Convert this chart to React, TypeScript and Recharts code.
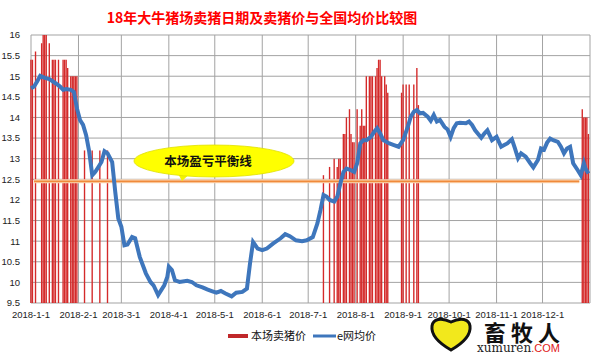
import React from 'react';
import { ComposedChart, Bar, Line, XAxis, YAxis, CartesianGrid, ReferenceLine } from 'recharts';

// days counted from 2018-1-1
const lineDays = [
  0, 2, 4, 6, 9, 12, 16, 19, 21, 23, 26, 28, 30, 32, 34, 36, 38, 40, 42, 44, 46, 48, 50, 53, 55, 57, 59, 61, 63, 66, 68,
  71, 75, 78, 80, 83, 87, 89, 90, 92, 94, 97, 102, 105, 108, 112, 115, 118, 121, 124, 127, 131, 134, 138, 141, 143, 145,
  148, 151, 154, 158, 163, 166, 169, 173, 177, 180, 184, 187, 189, 191, 193, 195, 198, 200, 202, 204, 206, 209, 211, 213,
  215, 217, 219, 222, 224, 226, 228, 230, 234, 237, 240, 243, 246, 248, 250, 252, 254, 256, 259, 261, 263, 265, 267, 270,
  272, 274, 276, 278, 280, 284, 286, 288, 290, 294, 296, 298, 301, 304, 307, 309, 311, 314, 316, 318, 320, 323, 326, 328,
  331, 333, 335, 337, 339, 341, 344, 346, 348, 350, 352, 354, 357, 359, 361, 362, 364,
];
const lineValues = [
  14.71, 14.75, 14.87, 15.01, 14.96, 14.93, 14.83, 14.75, 14.67, 14.69, 14.67, 14.62, 14.22, 13.94, 13.82, 13.57, 13.17,
  12.6, 12.68, 12.8, 12.92, 13.18, 13.13, 12.92, 12.2, 11.55, 11.35, 10.9, 10.92, 11.1, 11.07,
  10.62, 10.22, 10.01, 9.93, 9.69, 9.93, 10.13, 10.38, 10.3, 10.05, 10.01, 10.04, 10.01, 9.93, 9.88, 9.83, 9.79, 9.75,
  9.79, 9.73, 9.66, 9.75, 9.77, 9.85, 10.46, 10.98,
  10.82, 10.78, 10.82, 10.94, 11.07, 11.17, 11.12, 11.02, 11.0, 11.02, 11.1, 11.43, 11.75, 12.12, 12.08, 12.0, 11.96,
  12.08, 12.4, 12.68, 12.76, 12.72, 12.68, 12.89,
  13.37, 13.45, 13.45, 13.53, 13.65, 13.74, 13.61, 13.45, 13.37, 13.33, 13.29, 13.45, 13.77, 14.02, 14.14, 14.18, 14.1,
  14.11, 14.02, 13.92, 14.06, 13.9, 13.94, 13.77,
  13.71, 13.53, 13.74, 13.86, 13.87, 13.86, 13.9, 13.82, 13.69, 13.51, 13.61, 13.69, 13.45, 13.53, 13.29, 13.33, 13.37,
  13.47, 13.25, 13.01, 13.13, 13.05, 12.89, 12.79,
  12.97, 13.25, 13.22, 13.39, 13.49, 13.45, 13.41, 13.29, 13.13, 13.25, 13.29, 12.89, 12.72, 12.6, 12.89, 12.76, 12.64,
];

const saleDays = [
  0, 1, 3, 7, 8, 9, 10, 12, 14, 15, 16, 18, 21, 22, 23, 24, 26, 27, 28, 29, 30,
  35, 40, 45, 50,
  191, 195, 198, 200, 201, 202, 204, 205, 206, 208, 209, 210, 211, 213, 215, 216, 217, 218,
  219, 221, 222, 223, 225, 226, 227, 228, 229, 231, 232, 233,
  242, 243, 245, 247, 250, 252, 253,
  360, 361, 362, 363, 364,
];
const salePrices = [
  15.4, 15.4, 15.6, 15.8, 16, 16, 16, 15.8, 15.4, 15.4, 15.4, 15.4, 15.4, 15.4, 15.4, 15.2, 15.0, 15.0, 15.0, 15.0, 15.0,
  13.2, 13.2, 13.2, 13.2,
  12.6, 12.8, 13.0, 12.8, 13.0, 13.0, 13.6, 13.6, 14.0, 14.2, 13.6, 13.4, 13.4, 14.2, 13.8, 14.2, 13.8, 13.8,
  15.0, 15.0, 15.0, 15.0, 15.0, 15.2, 15.4, 15.4, 15.0, 15.0, 14.8, 14.6,
  14.6, 14.8, 14.8, 14.8, 14.8, 15.2, 14.3,
  14.2, 14.0, 14.0, 14.0, 13.6,
];

const monthTicks = [0, 31, 59, 90, 120, 151, 181, 212, 243, 273, 304, 334, 365];
const monthLabels = [
  '2018-1-1', '2018-2-1', '2018-3-1', '2018-4-1', '2018-5-1', '2018-6-1',
  '2018-7-1', '2018-8-1', '2018-9-1', '2018-10-1', '2018-11-1', '2018-12-1', '',
];
const priceTicks = [9.5, 10, 10.5, 11, 11.5, 12, 12.5, 13, 13.5, 14, 14.5, 15, 15.5, 16];

const breakEven = 12.45;
const breakEvenFrom = 2;
const breakEvenTo = 358;

const allDays = Array.from(new Set([...lineDays, ...saleDays])).sort((a, b) => a - b);
const rows = allDays.map((d) => {
  const li = lineDays.indexOf(d);
  const si = saleDays.indexOf(d);
  return {
    day: d,
    avg: li >= 0 ? lineValues[li] : null,
    sale: si >= 0 ? salePrices[si] : null,
  };
});

const tickFont = { fontSize: 9.5, fill: '#222', fontFamily: 'Liberation Sans, Arial, sans-serif' };
const cjk = 'Noto Sans CJK SC, sans-serif';

export default function App() {
  return (
    <div style={{ position: 'absolute', left: 0, top: 0, width: 600, height: 355, background: '#fff' }}>
      <ComposedChart width={600} height={355} data={rows} margin={{ top: 35, right: 10, bottom: 22, left: 0 }}>
        <CartesianGrid stroke="#a3a3a3" strokeWidth={1} />
        <XAxis
          dataKey="day"
          type="number"
          domain={[0, 365]}
          ticks={monthTicks}
          tickFormatter={(v: number) => monthLabels[monthTicks.indexOf(v)] ?? ''}
          tick={tickFont}
          tickLine={false}
          axisLine={false}
          interval={0}
          height={30}
        />
        <YAxis
          type="number"
          domain={[9.5, 16]}
          ticks={priceTicks}
          tick={tickFont}
          tickLine={false}
          axisLine={false}
          tickMargin={5}
          width={31}
          interval={0}
        />
        <Bar dataKey="sale" fill="#d42a2a" barSize={2} isAnimationActive={false} />
        <ReferenceLine
          segment={[{ x: breakEvenFrom, y: breakEven }, { x: breakEvenTo, y: breakEven }]}
          stroke="#fcd9b8"
          strokeWidth={4}
        />
        <ReferenceLine
          segment={[{ x: breakEvenFrom, y: breakEven }, { x: breakEvenTo, y: breakEven }]}
          stroke="#f08a3a"
          strokeWidth={1.6}
        />
        <Line
          dataKey="avg"
          stroke="#3e76bc"
          strokeWidth={4}
          dot={false}
          connectNulls
          type="linear"
          isAnimationActive={false}
        />
      </ComposedChart>

      <svg width={600} height={355} style={{ position: 'absolute', left: 0, top: 0, pointerEvents: 'none' }}>
        <text x={262} y={23} textAnchor="middle" fill="#ff0000" fontSize={14} fontWeight="bold" fontFamily={cjk}>
          18年大牛猪场卖猪日期及卖猪价与全国均价比较图
        </text>

        {/* callout */}
        <path d="M176 170 L194 170 L182 181 Z" fill="#f2f200" />
        <ellipse cx={214} cy={161} rx={80} ry={16} fill="#ffff00" stroke="#e0e000" strokeWidth={0.8} />
        <text x={208} y={166} textAnchor="middle" fontSize={12.5} fontWeight="bold" fill="#111" fontFamily={cjk}>
          本场盈亏平衡线
        </text>

        {/* legend */}
        <rect x={228} y={334} width={20} height={4} fill="#c0282a" />
        <text x={251} y={340} fontSize={11} fill="#111" fontFamily={cjk}>
          本场卖猪价
        </text>
        <line x1={313} y1={336} x2={336} y2={336} stroke="#3e76bc" strokeWidth={3} />
        <text x={337} y={340} fontSize={11} fill="#111" fontFamily={cjk}>
          e网均价
        </text>

        {/* watermark */}
        <path
          d="M451 350 C437 342 431 334 432 326 C433 319 441 317 451 322 C461 317 469 319 470 326 C471 334 465 342 451 350 Z"
          fill="#f2e81c"
          stroke="#111"
          strokeWidth={3}
        />
        <text x={484} y={341} fontSize={22} fontWeight="bold" fill="#111" letterSpacing={5} fontFamily={cjk}>
          畜牧人
        </text>
        <text x={477} y={352} fontSize={12} fill="#222" fontFamily="DejaVu Serif, serif">
          xumuren
          <tspan fill="#e02020" fontFamily="Liberation Sans, sans-serif" fontSize={11}>.COM</tspan>
        </text>
      </svg>
    </div>
  );
}
